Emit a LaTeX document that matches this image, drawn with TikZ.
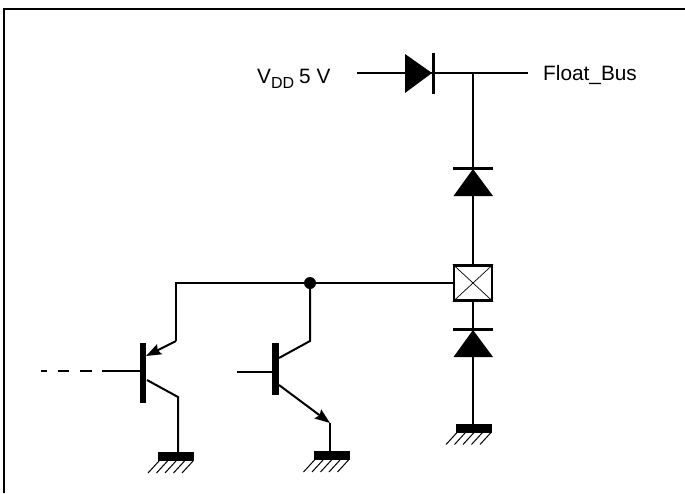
\documentclass[tikz,border=0pt]{standalone}
\usepackage{fontspec}
\setmainfont{Liberation Sans}
\usetikzlibrary{positioning}
\usetikzlibrary{arrows.meta}
\tikzset{
  wire/.style={line width=2.3pt},
  thinwire/.style={line width=2pt},
  barnode/.style={fill=black,inner sep=0pt,outer sep=0pt},
  gndbar/.style={barnode,minimum width=36pt,minimum height=9pt},
  diodebar/.style={barnode,minimum width=40pt,minimum height=3pt},
  hatchline/.style={line width=1pt},
  emitter/.style={thinwire,-{Stealth[length=15pt,width=11pt,inset=2pt]}},
  lab/.style={font=\fontsize{20.8}{24}\selectfont,anchor=base west,inner sep=0pt},
}
\begin{document}
\begin{tikzpicture}[x=1pt,y=-1pt]
\useasboundingbox (0,0) rectangle (685,493);

% open frame
\coordinate (FR) at (685,9);
\coordinate (FC) at (4,9);
\coordinate (FB) at (4,493);
\draw[wire] (FR) -- (FC) -- (FB);

% labels
\node[lab](vdd) at (257,83){V\raisebox{-5pt}{\fontsize{16}{18}\selectfont DD}\hspace{5pt}5 V};
\node[lab](bus) at (543,80){Float\_Bus};

% series diode
\coordinate (VIN) at (357,73);
\coordinate (BUSOUT) at (528,73);
\coordinate (TEE) at (473,73);
\node[barnode,minimum width=3.5pt,minimum height=41pt](D1bar) at (433.5,73){};
\fill (405,54) -- (432,73) -- (405,93) -- cycle;
\draw[wire] (VIN) -- (BUSOUT);

% pad and clamp diodes
\node[draw,line width=2.3pt,fill=white,minimum width=38pt,minimum height=35pt,inner sep=0pt](PAD) at (473,283){};
\draw[line width=.7pt] (PAD.north west) -- (PAD.south east);
\draw[line width=.7pt] (PAD.north east) -- (PAD.south west);
\node[diodebar](D2bar) at (473,168){};
\node[diodebar](D3bar) at (473,329){};
\fill (473,169) -- (493,196) -- (453.5,196) -- cycle;
\fill (473,330) -- (493,357) -- (453.5,357) -- cycle;
\node[gndbar](G3) at (474,428){};
\draw[wire] (TEE) -- (D2bar);
\draw[wire] (D2bar) -- (PAD);
\draw[wire] (PAD) -- (D3bar);
\draw[wire] (D3bar) -- (D3bar |- G3.north);

% left transistor
\node[barnode,minimum width=6.5pt,minimum height=60pt](Q1bar) at (143,373){};
\coordinate (Q1base) at (102,371);
\coordinate (Q1dash) at (41,371);
\coordinate (Q1e) at (176,341);
\coordinate (Q1et) at (146,356);
\coordinate (Q1c) at (178,397);
\coordinate (Q1ct) at (147,380);
\coordinate (Q1top) at (176,283);
\node[gndbar](G1) at (176,456.5){};
\draw[wire] (Q1base) -- (Q1bar.west |- Q1base);
\draw[wire,dash pattern=on 6pt off 11pt on 11pt off 11pt on 12pt off 10pt] (Q1dash) -- (Q1base);
\draw[emitter] (Q1e) -- (Q1et);
\draw[thinwire] (Q1ct) -- (Q1c) -- (Q1c |- G1.north);

% right transistor
\node[barnode,minimum width=7pt,minimum height=52pt](Q2bar) at (275.5,369){};
\coordinate (Q2base) at (237,372);
\coordinate (Q2c) at (310,341);
\coordinate (Q2ct) at (279,358);
\coordinate (Q2e) at (330,423);
\coordinate (Q2et) at (279,385);
\node[gndbar](G2) at (331.5,455.5){};
\node[fill=black,circle,minimum size=12pt,inner sep=0pt](JN) at (310,283){};
\draw[wire] (Q2base) -- (Q2bar.west |- Q2base);
\draw[thinwire] (JN) -- (Q2c) -- (Q2ct);
\draw[emitter] (Q2et) -- (Q2e);
\draw[wire] (Q2e) -- (G2.north -| Q2e);

% common wire
\draw[wire] (PAD) -- (JN);
\draw[wire] (JN) -- (Q1top) -- (Q1e);

% ground hatching
\foreach \gnd in {G1,G2,G3}
  \foreach \i in {0,1,2,3,4}
    \draw[hatchline] ([xshift=\i*8.5pt+1pt]\gnd.south west) -- ++(-11,12);
\end{tikzpicture}
\end{document}
